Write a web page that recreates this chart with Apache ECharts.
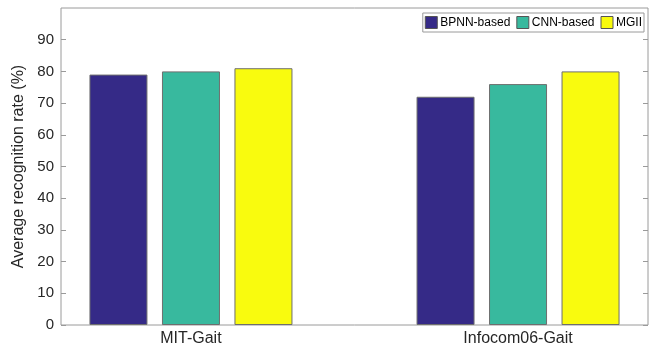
<!DOCTYPE html>
<html><head><meta charset="utf-8">
<script src="https://cdn.jsdelivr.net/npm/echarts@6/dist/echarts.min.js"></script>
<style>html,body{margin:0;padding:0;background:#fff}#c{width:653px;height:349px}</style>
</head><body><div id="c"></div>
<script>
const categories = ['MIT-Gait', 'Infocom06-Gait'];
const seriesNames = ['BPNN-based', 'CNN-based', 'MGII'];
const bpnn = [79, 72];
const cnn = [80, 76];
const mgii = [81, 80];
const yTicks = [0, 10, 20, 30, 40, 50, 60, 70, 80, 90];
const colors = ['#352a87', '#38b99e', '#f9fb0e'];

const values = [bpnn, cnn, mgii];
const font = 'Liberation Sans, Arial, sans-serif';
const chart = echarts.init(document.getElementById('c'));
chart.setOption({
  animation: false,
  backgroundColor: '#fff',
  grid: { left: 61, right: 5, top: 8, bottom: 24, show: true, borderColor: '#9a9a9a', borderWidth: 1, containLabel: false },
  legend: {
    right: 9, top: 13, itemWidth: 12, itemHeight: 12, itemGap: 6, icon: 'rect',
    borderColor: '#9a9a9a', borderWidth: 1, padding: [3, 2, 3, 2],
    backgroundColor: '#fff',
    textStyle: { fontFamily: font, fontSize: 12, color: '#000', padding: [0, 0, 0, -2] },
    data: seriesNames.map(n => ({ name: n, itemStyle: { borderColor: '#555', borderWidth: 1 } }))
  },
  xAxis: {
    type: 'value', min: 0.6027, max: 2.3973,
    axisLine: { show: false }, splitLine: { show: false },
    axisTick: { show: false },
    axisLabel: { customValues: [1, 2], formatter: v => categories[Math.round(v) - 1] || '', fontFamily: font, fontSize: 16, color: '#262626', margin: 6 }
  },
  yAxis: [{
    type: 'value', min: 0, max: 100, interval: 10,
    name: 'Average recognition rate (%)', nameLocation: 'middle', nameGap: 29,
    nameTextStyle: { fontFamily: font, fontSize: 16, color: '#262626' },
    axisLine: { show: false }, splitLine: { show: false },
    axisTick: { show: true, inside: true, length: 5, lineStyle: { color: '#9a9a9a' }, customValues: yTicks },
    axisLabel: { customValues: yTicks, fontFamily: font, fontSize: 15, color: '#262626', margin: 7 }
  }, {
    type: 'value', min: 0, max: 100, interval: 10, position: 'right',
    axisLine: { show: false }, splitLine: { show: false },
    axisTick: { show: true, inside: true, length: 5, lineStyle: { color: '#9a9a9a' }, customValues: yTicks },
    axisLabel: { show: false }
  }],
  series: seriesNames.map((n, i) => ({
    name: n, type: 'bar', barWidth: 58, barGap: '25%',
    itemStyle: { color: colors[i], borderColor: '#6e6e6e', borderWidth: 1 },
    data: categories.map((c, j) => [j + 1, values[i][j]])
  }))
});
</script></body></html>
